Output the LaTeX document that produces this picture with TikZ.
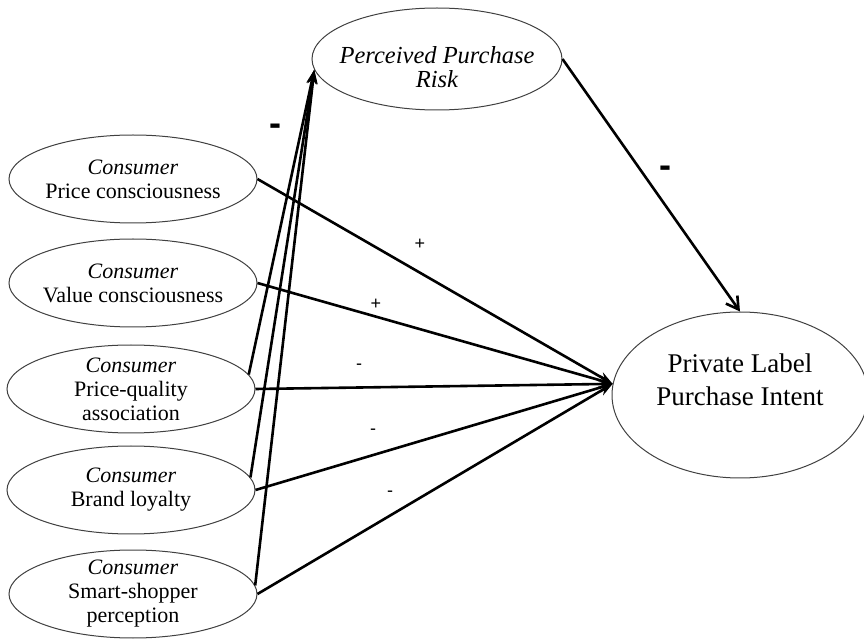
\documentclass[tikz,border=0pt]{standalone}
\usepackage{fontspec}
\setmainfont{Liberation Serif}
\newfontfamily\signfont{Liberation Sans}
\usetikzlibrary{shapes.geometric,arrows.meta}

\begin{document}
\begin{tikzpicture}[x=0.5pt, y=-0.5pt,
    construct/.style={ellipse, draw=black!75, line width=0.5pt, inner sep=-2pt, align=center,
        minimum width=124pt, minimum height=44pt, font=\fontsize{11}{12}\selectfont},
    effect/.style={-{Stealth[length=7pt, width=5pt]}, line width=1.3pt},
    sign/.style={font=\signfont\fontsize{9}{9}\selectfont, inner sep=0pt},
    bigsign/.style={font=\signfont\bfseries\fontsize{18}{18}\selectfont, inner sep=0pt}]
    \useasboundingbox (0,0) rectangle (864,642);

    \node[construct, minimum width=125pt, minimum height=51pt, inner sep=-6pt,
        font=\itshape\fontsize{12.25}{12}\selectfont] (risk) at (437,59) {\rule{0pt}{17pt}Perceived Purchase\\Risk};
    \node[construct, minimum width=128pt, minimum height=83pt,
        font=\fontsize{13.5}{16.5}\selectfont] (pi) at (740,395) {Private Label\\Purchase Intent\rule[-15pt]{0pt}{15pt}};

    \node[construct] (pc) at (133,179) {\textit{Consumer}\\Price consciousness};
    \node[construct] (vc) at (133,283) {\textit{Consumer}\\Value consciousness};
    \node[construct] (pq) at (131,389) {\textit{Consumer}\\Price-quality\\association};
    \node[construct] (bl) at (131,490) {\textit{Consumer}\\Brand loyalty};
    \node[construct] (ss) at (133,594) {\textit{Consumer}\\Smart-shopper\\perception};

    \draw[effect] (pc.east) -- (pi.175);
    \draw[effect] (vc.east) -- (pi.175);
    \draw[effect] (pq.east) -- (pi.175);
    \draw[effect] (bl.east) -- (pi.175);
    \draw[effect] (ss.east) -- (pi.175);

    \draw[effect] (pq.7) -- (risk.185);
    \draw[effect] (bl.6) -- (risk.185);
    \draw[effect] (ss.4) -- (risk.185);

    \draw[-{Straight Barb[length=6pt, width=7pt]}, line width=1.3pt] (risk.east) -- (pi.north);

    \node[bigsign] (s-risk) at (275,130) {-};
    \node[bigsign] (s-intent) at (665,172) {-};
    \node[sign] (s-pc) at (420,244) {+};
    \node[sign] (s-vc) at (376,304) {+};
    \node[sign] (s-pq) at (359,367) {-};
    \node[sign] (s-bl) at (373,432) {-};
    \node[sign] (s-ss) at (390,494) {-};
\end{tikzpicture}
\end{document}
